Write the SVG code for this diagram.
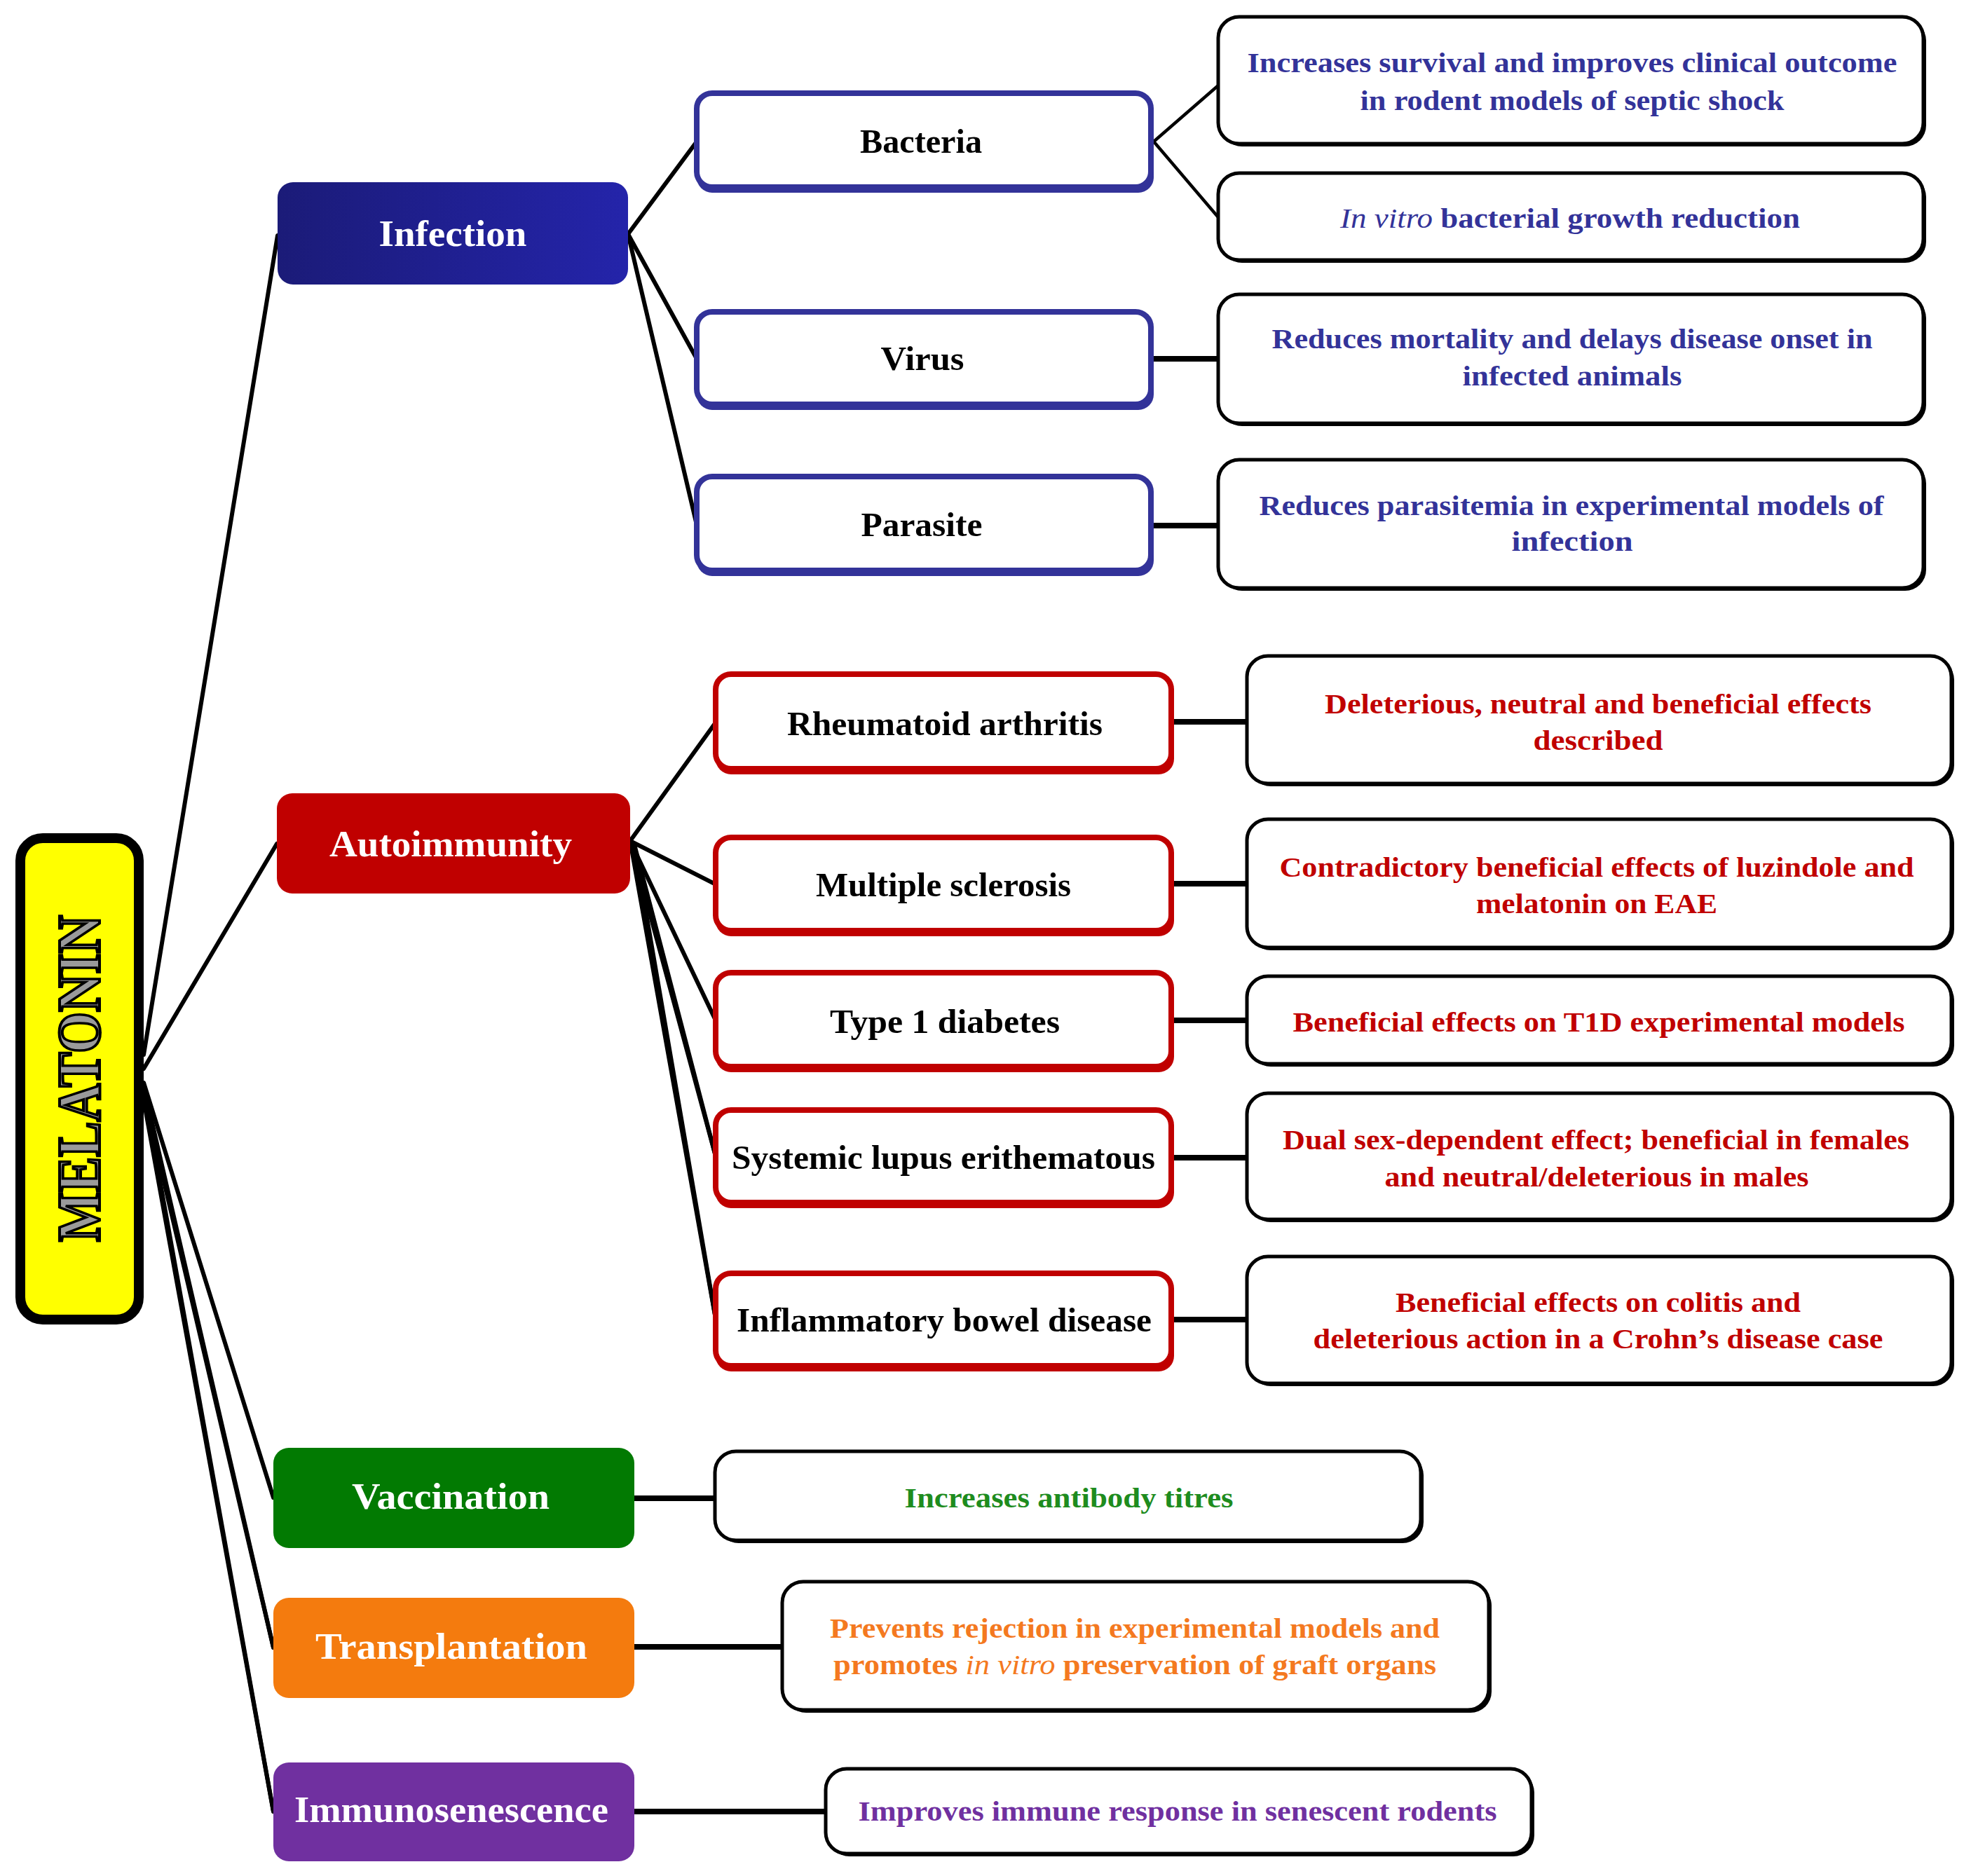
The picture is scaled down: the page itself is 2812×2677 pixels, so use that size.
<svg xmlns="http://www.w3.org/2000/svg" width="2812" height="2677" viewBox="0 0 2812 2677">
<defs>
<linearGradient id="gInf" x1="0" y1="0" x2="1" y2="0">
<stop offset="0" stop-color="#1b1b78"/>
<stop offset="1" stop-color="#2424aa"/>
</linearGradient>
</defs>
<style>
text{font-family:"Liberation Serif","Times New Roman",serif;font-weight:bold;text-anchor:middle}
.conn{stroke:#000;stroke-width:6;fill:none;stroke-linecap:round}
.thin{stroke-width:4.5}
.thick{stroke-width:8;stroke-linecap:butt}
.cat text{fill:#fff;font-size:52px}
.sub rect.m{fill:#fff;stroke-width:8}
.sub text{fill:#000;font-size:49px}
.blue rect{stroke:#333399}
.blue rect.s{fill:#333399;stroke:none}
.red rect{stroke:#c00000}
.red rect.s{fill:#c00000;stroke:none}
.res rect.m{fill:#fff;stroke:#000;stroke-width:5}
.res rect.s{fill:#000}
.res text{font-size:40px}
.tb{fill:#333399}
.tr{fill:#c00000}
.tg{fill:#1e8c1e}
.to{fill:#f47920}
.tp{fill:#7030a0}
.it{font-style:italic;font-weight:normal}
</style>
<rect width="2812" height="2677" fill="#fff"/>

<g id="connectors">
<line class="conn" x1="205" y1="1505" x2="396" y2="336"/>
<line class="conn" x1="205" y1="1525" x2="395" y2="1204"/>
<line class="conn" x1="205" y1="1545" x2="390" y2="2137"/>
<line class="conn" x1="205" y1="1550" x2="390" y2="2351"/>
<line class="conn" x1="205" y1="1563" x2="390" y2="2351"/>
<line class="conn" x1="205" y1="1556" x2="390" y2="2585"/>
<line class="conn" x1="205" y1="1570" x2="390" y2="2585"/>
<line class="conn" x1="896" y1="334" x2="994" y2="202"/>
<line class="conn" x1="896" y1="334" x2="994" y2="512"/>
<line class="conn" x1="896" y1="334" x2="994" y2="749"/>
<line class="conn thin" x1="1646" y1="202" x2="1738" y2="122"/>
<line class="conn thin" x1="1646" y1="202" x2="1738" y2="310"/>
<line class="conn thick" x1="1646" y1="512" x2="1738" y2="512"/>
<line class="conn thick" x1="1646" y1="750" x2="1738" y2="750"/>
<line class="conn" x1="899" y1="1200" x2="1021" y2="1031"/>
<line class="conn" x1="899" y1="1200" x2="1021" y2="1262"/>
<line class="conn" x1="899" y1="1200" x2="1021" y2="1456"/>
<line class="conn" x1="899" y1="1200" x2="1021" y2="1650"/>
<line class="conn" x1="905" y1="1205" x2="1021" y2="1650"/>
<line class="conn" x1="899" y1="1200" x2="1021" y2="1882"/>
<line class="conn" x1="905" y1="1205" x2="1021" y2="1882"/>
<line class="conn thick" x1="1675" y1="1030" x2="1779" y2="1030"/>
<line class="conn thick" x1="1675" y1="1261" x2="1779" y2="1261"/>
<line class="conn thick" x1="1675" y1="1456" x2="1779" y2="1456"/>
<line class="conn thick" x1="1675" y1="1652" x2="1779" y2="1652"/>
<line class="conn thick" x1="1675" y1="1883" x2="1779" y2="1883"/>
<line class="conn thick" x1="905" y1="2138" x2="1020" y2="2138"/>
<line class="conn thick" x1="905" y1="2350" x2="1116" y2="2350"/>
<line class="conn thick" x1="905" y1="2585" x2="1178" y2="2585"/>
</g>

<g id="melatonin">
<rect x="33" y="1200" width="169" height="687" rx="32" fill="#000"/>
<rect x="29" y="1196" width="169" height="687" rx="32" fill="#ffff00" stroke="#000" stroke-width="14"/>
<text transform="translate(142,1539) rotate(-90)" font-size="86" textLength="466" lengthAdjust="spacingAndGlyphs" fill="#9a9a9a" stroke="#000" stroke-width="4">MELATONIN</text>
</g>

<g id="infection" class="cat">
<rect x="396" y="260" width="500" height="146" rx="22" fill="url(#gInf)"/>
<text x="646" y="351" textLength="211" lengthAdjust="spacingAndGlyphs">Infection</text>
</g>
<g id="autoimmunity" class="cat">
<rect x="395" y="1132" width="504" height="143" rx="22" fill="#c00000"/>
<text x="643" y="1222" textLength="346" lengthAdjust="spacingAndGlyphs">Autoimmunity</text>
</g>
<g id="vaccination" class="cat">
<rect x="390" y="2066" width="515" height="143" rx="22" fill="#027a02"/>
<text x="643" y="2153" textLength="282" lengthAdjust="spacingAndGlyphs">Vaccination</text>
</g>
<g id="transplantation" class="cat">
<rect x="390" y="2280" width="515" height="143" rx="22" fill="#f47b0e"/>
<text x="644" y="2367" textLength="388" lengthAdjust="spacingAndGlyphs">Transplantation</text>
</g>
<g id="immunosenescence" class="cat">
<rect x="390" y="2515" width="515" height="141" rx="22" fill="#7030a0"/>
<text x="644" y="2600" textLength="448" lengthAdjust="spacingAndGlyphs">Immunosenescence</text>
</g>

<g id="bacteria" class="sub blue">
<rect class="s" x="994" y="137" width="652" height="138" rx="22"/>
<rect class="m" x="994" y="133" width="648" height="134" rx="22"/>
<text x="1314" y="218" textLength="174" lengthAdjust="spacingAndGlyphs">Bacteria</text>
</g>
<g id="virus" class="sub blue">
<rect class="s" x="994" y="449" width="652" height="136" rx="22"/>
<rect class="m" x="994" y="445" width="648" height="132" rx="22"/>
<text x="1316" y="528" textLength="119" lengthAdjust="spacingAndGlyphs">Virus</text>
</g>
<g id="parasite" class="sub blue">
<rect class="s" x="994" y="684" width="652" height="138" rx="22"/>
<rect class="m" x="994" y="680" width="648" height="134" rx="22"/>
<text x="1315" y="765" textLength="173" lengthAdjust="spacingAndGlyphs">Parasite</text>
</g>

<g id="ra" class="sub red">
<rect class="s" x="1021" y="966" width="654" height="139" rx="22"/>
<rect class="m" x="1021" y="962" width="650" height="135" rx="22"/>
<text x="1348" y="1049" textLength="450" lengthAdjust="spacingAndGlyphs">Rheumatoid arthritis</text>
</g>
<g id="ms" class="sub red">
<rect class="s" x="1021" y="1199" width="654" height="137" rx="22"/>
<rect class="m" x="1021" y="1195" width="650" height="133" rx="22"/>
<text x="1346" y="1279" textLength="364" lengthAdjust="spacingAndGlyphs">Multiple sclerosis</text>
</g>
<g id="t1d" class="sub red">
<rect class="s" x="1021" y="1392" width="654" height="138" rx="22"/>
<rect class="m" x="1021" y="1388" width="650" height="134" rx="22"/>
<text x="1348" y="1474" textLength="328" lengthAdjust="spacingAndGlyphs">Type 1 diabetes</text>
</g>
<g id="sle" class="sub red">
<rect class="s" x="1021" y="1588" width="654" height="136" rx="22"/>
<rect class="m" x="1021" y="1584" width="650" height="132" rx="22"/>
<text x="1346" y="1668" textLength="604" lengthAdjust="spacingAndGlyphs">Systemic lupus erithematous</text>
</g>
<g id="ibd" class="sub red">
<rect class="s" x="1021" y="1821" width="654" height="136" rx="22"/>
<rect class="m" x="1021" y="1817" width="650" height="132" rx="22"/>
<text x="1347" y="1900" textLength="592" lengthAdjust="spacingAndGlyphs">Inflammatory bowel disease</text>
</g>

<g id="r-bacteria-1" class="res">
<rect class="s" x="1742" y="28" width="1006" height="181" rx="30"/>
<rect class="m" x="1738" y="24" width="1006" height="181" rx="30"/>
<text class="tb" x="2243" y="103" textLength="927" lengthAdjust="spacingAndGlyphs">Increases survival and improves clinical outcome</text>
<text class="tb" x="2243" y="157" textLength="605" lengthAdjust="spacingAndGlyphs">in rodent models of septic shock</text>
</g>
<g id="r-bacteria-2" class="res">
<rect class="s" x="1742" y="251" width="1006" height="124" rx="30"/>
<rect class="m" x="1738" y="247" width="1006" height="124" rx="30"/>
<text class="tb" x="2240" y="325" textLength="656" lengthAdjust="spacingAndGlyphs"><tspan class="it">In vitro</tspan> bacterial growth reduction</text>
</g>
<g id="r-virus" class="res">
<rect class="s" x="1742" y="424" width="1006" height="184" rx="30"/>
<rect class="m" x="1738" y="420" width="1006" height="184" rx="30"/>
<text class="tb" x="2243" y="497" textLength="857" lengthAdjust="spacingAndGlyphs">Reduces mortality and delays disease onset in</text>
<text class="tb" x="2243" y="550" textLength="313" lengthAdjust="spacingAndGlyphs">infected animals</text>
</g>
<g id="r-parasite" class="res">
<rect class="s" x="1742" y="660" width="1006" height="183" rx="30"/>
<rect class="m" x="1738" y="656" width="1006" height="183" rx="30"/>
<text class="tb" x="2242" y="735" textLength="891" lengthAdjust="spacingAndGlyphs">Reduces parasitemia in experimental models of</text>
<text class="tb" x="2243" y="786" textLength="173" lengthAdjust="spacingAndGlyphs">infection</text>
</g>

<g id="r-ra" class="res">
<rect class="s" x="1783" y="940" width="1005" height="182" rx="30"/>
<rect class="m" x="1779" y="936" width="1005" height="182" rx="30"/>
<text class="tr" x="2280" y="1018" textLength="780" lengthAdjust="spacingAndGlyphs">Deleterious, neutral and beneficial effects</text>
<text class="tr" x="2280" y="1070" textLength="185" lengthAdjust="spacingAndGlyphs">described</text>
</g>
<g id="r-ms" class="res">
<rect class="s" x="1783" y="1173" width="1005" height="183" rx="30"/>
<rect class="m" x="1779" y="1169" width="1005" height="183" rx="30"/>
<text class="tr" x="2278" y="1251" textLength="905" lengthAdjust="spacingAndGlyphs">Contradictory beneficial effects of luzindole and</text>
<text class="tr" x="2278" y="1303" textLength="344" lengthAdjust="spacingAndGlyphs">melatonin on EAE</text>
</g>
<g id="r-t1d" class="res">
<rect class="s" x="1783" y="1397" width="1005" height="125" rx="30"/>
<rect class="m" x="1779" y="1393" width="1005" height="125" rx="30"/>
<text class="tr" x="2281" y="1472" textLength="873" lengthAdjust="spacingAndGlyphs">Beneficial effects on T1D experimental models</text>
</g>
<g id="r-sle" class="res">
<rect class="s" x="1783" y="1564" width="1005" height="180" rx="30"/>
<rect class="m" x="1779" y="1560" width="1005" height="180" rx="30"/>
<text class="tr" x="2277" y="1640" textLength="894" lengthAdjust="spacingAndGlyphs">Dual sex-dependent effect; beneficial in females</text>
<text class="tr" x="2278" y="1693" textLength="605" lengthAdjust="spacingAndGlyphs">and neutral/deleterious in males</text>
</g>
<g id="r-ibd" class="res">
<rect class="s" x="1783" y="1797" width="1005" height="181" rx="30"/>
<rect class="m" x="1779" y="1793" width="1005" height="181" rx="30"/>
<text class="tr" x="2280" y="1872" textLength="578" lengthAdjust="spacingAndGlyphs">Beneficial effects on colitis and</text>
<text class="tr" x="2280" y="1924" textLength="813" lengthAdjust="spacingAndGlyphs">deleterious action in a Crohn’s disease case</text>
</g>

<g id="r-vaccination" class="res">
<rect class="s" x="1024" y="2075" width="1007" height="127" rx="30"/>
<rect class="m" x="1020" y="2071" width="1007" height="127" rx="30"/>
<text class="tg" x="1525" y="2151" textLength="469" lengthAdjust="spacingAndGlyphs">Increases antibody titres</text>
</g>
<g id="r-transplantation" class="res">
<rect class="s" x="1120" y="2261" width="1008" height="183" rx="30"/>
<rect class="m" x="1116" y="2257" width="1008" height="183" rx="30"/>
<text class="to" x="1619" y="2337" textLength="870" lengthAdjust="spacingAndGlyphs">Prevents rejection in experimental models and</text>
<text class="to" x="1619" y="2389" textLength="860" lengthAdjust="spacingAndGlyphs">promotes <tspan class="it">in vitro</tspan> preservation of graft organs</text>
</g>
<g id="r-immunosenescence" class="res">
<rect class="s" x="1182" y="2528" width="1007" height="121" rx="30"/>
<rect class="m" x="1178" y="2524" width="1007" height="121" rx="30"/>
<text class="tp" x="1680" y="2598" textLength="911" lengthAdjust="spacingAndGlyphs">Improves immune response in senescent rodents</text>
</g>
</svg>
